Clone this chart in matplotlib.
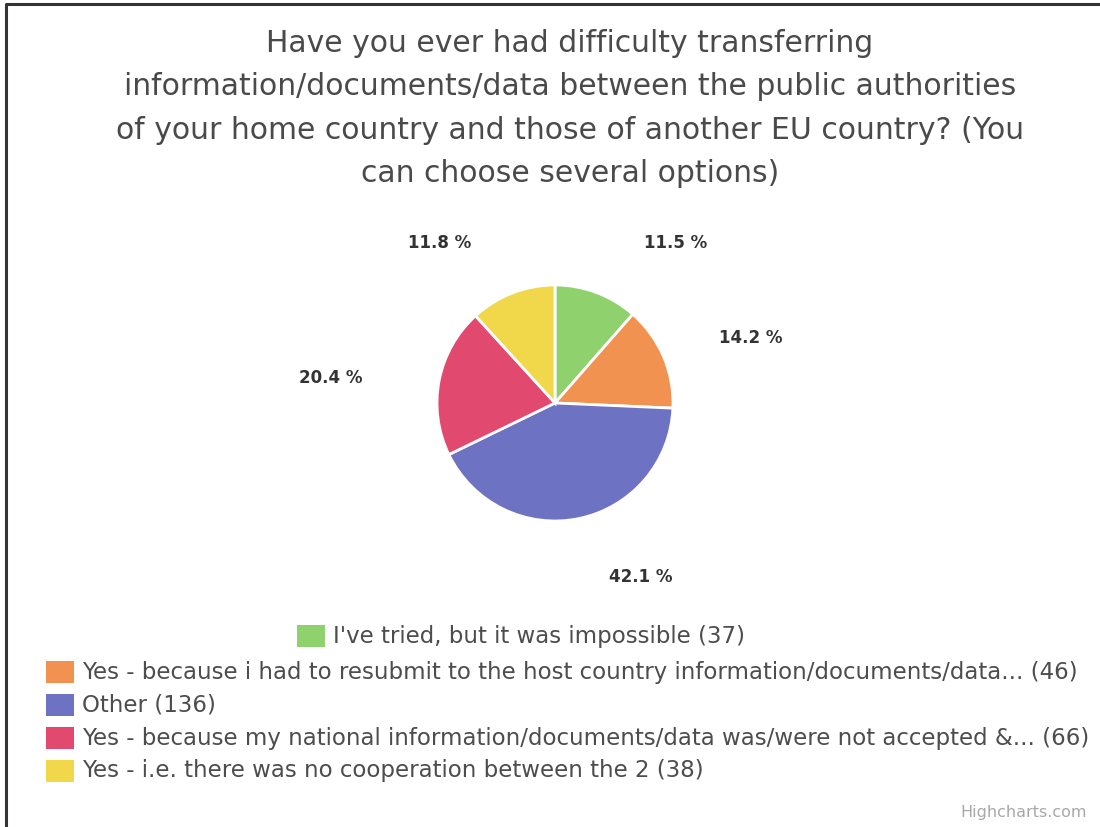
import matplotlib.pyplot as plt
from matplotlib.patches import Rectangle
from matplotlib.lines import Line2D

# data
labels = ["I've tried, but it was impossible",
          "Yes - because i had to resubmit to the host country information/documents/data...",
          "Other",
          "Yes - because my national information/documents/data was/were not accepted &...",
          "Yes - i.e. there was no cooperation between the 2"]
counts = [37, 46, 136, 66, 38]
colors = ['#8fd16c', '#f29250', '#6d72c3', '#e2496f', '#f0d84a']

title = ("Have you ever had difficulty transferring\n"
         "information/documents/data between the public authorities\n"
         "of your home country and those of another EU country? (You\n"
         "can choose several options)")

W, H = 1100, 827
fig = plt.figure(figsize=(11, 8.27), dpi=100)
ax = fig.add_axes([0, 0, 1, 1])
ax.set_aspect('equal')
ax.axis('off')

# pie, centre and radius in pixels
cx, cy, r = 555, H - 403, 118
wedges, texts, autotexts = ax.pie(counts, colors=colors, startangle=90, counterclock=False,
                                  center=(cx, cy), radius=r, autopct='%.1f %%',
                                  wedgeprops=dict(edgecolor='white', linewidth=2))
ax.set_xlim(0, W)
ax.set_ylim(0, H)

# data label offsets from the centre (pixels), highcharts style placement
label_off = [(121, 160), (196, 65), (86, -174), (-224, 25), (-115, 160)]
for t, (dx, dy) in zip(autotexts, label_off):
    t.set_position((cx + dx, cy + dy))
    t.set_fontsize(12)
    t.set_fontweight('bold')
    t.set_color('#333333')

# title
fig.text(570 / W, 1 - 29 / H, title, ha='center', va='top', fontsize=21.5,
         color='#4a4a4a', linespacing=1.62)

# legend drawn by hand, highcharts wraps rows
rows_y = [636, 672, 705, 738, 771]
rows_x = [297, 46, 46, 46, 46]
for lab, n, col, x, y in zip(labels, counts, colors, rows_x, rows_y):
    ax.add_patch(Rectangle((x, H - y - 11), 28, 22, facecolor=col, edgecolor='none'))
    ax.text(x + 36, H - y, f'{lab} ({n})', fontsize=16.5, color='#4d4d4d',
            ha='left', va='center')

fig.text(1087 / W, 1 - 813 / H, 'Highcharts.com', ha='right', va='center',
         fontsize=11.5, color='#a8a8a8')

# outer frame, only top and left edges are visible
fig.lines.append(Line2D([6 / W, 6 / W, 1], [0, 1 - 4 / H, 1 - 4 / H],
                        transform=fig.transFigure, color='#333333', linewidth=2.2))

plt.savefig('out.png', dpi=100)
